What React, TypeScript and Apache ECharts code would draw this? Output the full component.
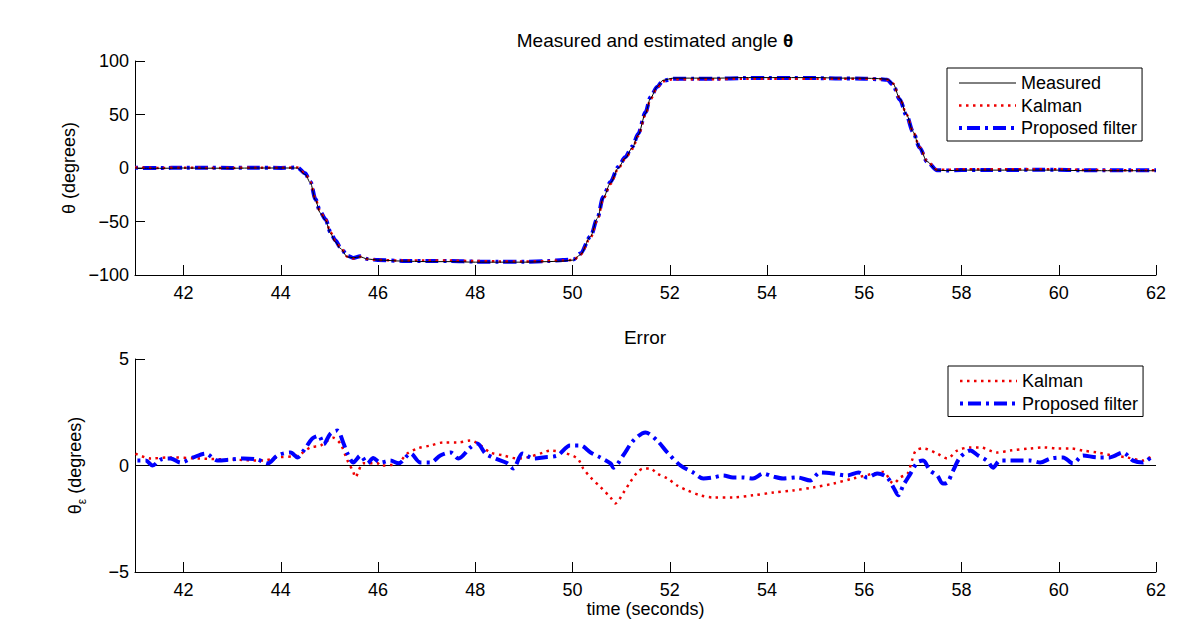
import React, { useEffect, useRef } from "react";
import * as echarts from "echarts";

const FONT = "'Liberation Sans', Arial, Helvetica, sans-serif";

// x tick labels (time, seconds)
const timeTicks = [42, 44, 46, 48, 50, 52, 54, 56, 58, 60, 62];

// ---- Top panel: measured and estimated angle (degrees) ----
const angleT = [41, 41.5, 42, 42.5, 43, 43.5, 44, 44.34, 44.5, 44.61, 44.71, 44.81, 44.92, 45.02, 45.12, 45.22, 45.37, 45.49, 45.63, 45.78, 45.99, 46.5, 47, 47.5, 48, 48.5, 49, 49.5, 49.8, 50.02, 50.16, 50.37, 50.51, 50.63, 50.78, 50.94, 51.08, 51.23, 51.35, 51.5, 51.6, 51.74, 51.86, 52.07, 52.5, 53, 53.5, 54, 54.5, 55, 55.5, 56, 56.3, 56.47, 56.59, 56.73, 56.87, 57, 57.14, 57.29, 57.49, 57.7, 58, 58.5, 59, 59.5, 60, 60.5, 61, 61.5, 62];
const measuredAngle = [0, -0.3, 0, -0.2, -0.2, 0, 0, 0, -6, -14, -30, -42, -49, -61, -69, -75, -83, -84, -83, -85, -86, -87, -87.5, -87.5, -88, -88, -88, -87.5, -87, -86, -81, -64, -47, -28, -14, 0, 9, 19, 31, 51, 65, 76, 82, 84, 84, 84, 84.5, 84.5, 84.5, 84.5, 84, 84, 83.5, 83, 79, 65, 50, 34, 19, 6, -2, -2.5, -2, -2, -2, -2, -2, -2.5, -2.5, -2.5, -2.5];
const kalmanAngle = [0.5, 0, 0.3, 0.1, 0.1, 0.2, 0.3, 0.4, -5, -13, -29, -41, -48, -60, -68, -74, -83, -84.5, -83, -85, -86, -86.5, -86.5, -86.5, -87, -87.3, -87.5, -87, -86.5, -86, -81, -65, -49, -29, -15, -0.5, 8.5, 18, 30, 50, 64, 75, 81, 83, 83, 83, 83.5, 83.5, 83.5, 83.5, 83.4, 83.5, 83.2, 82.5, 79, 65, 50, 34, 19.5, 6.5, -1.5, -1.7, -1.2, -1.3, -1.2, -1.2, -1.2, -1.8, -2, -2.2, -2.2];
const proposedAngle = [0.2, 0, 0.3, 0.3, 0.1, 0.2, 0.1, 0.4, -5, -13, -29, -41, -48, -60, -67.5, -74, -82, -84, -82.5, -85, -86, -86.8, -87, -87, -87.5, -87.7, -87.7, -87, -86, -85.5, -80, -64, -47, -27, -13, 1, 10, 20, 32, 52, 66, 76, 81.5, 83.5, 83.5, 83.5, 84, 84, 84, 84, 83.6, 83.5, 83, 82.5, 78, 64, 49, 34, 19, 6, -2, -2.3, -1.8, -1.8, -1.8, -1.7, -1.7, -2.2, -2.1, -2.2, -2.0];

// ---- Bottom panel: error (degrees) ----
const zeroT = [41, 62];
const zeroV = [0, 0];

const kalmanErrT = [41.01, 41.32, 41.73, 42.29, 42.97, 43.64, 43.93, 44.34, 44.61, 44.82, 44.96, 45.08, 45.23, 45.37, 45.49, 45.53, 45.7, 45.99, 46.05, 46.4, 46.6, 46.81, 47.08, 47.34, 47.63, 47.9, 48.11, 48.31, 48.58, 48.86, 49.07, 49.4, 49.54, 49.81, 50.1, 50.22, 50.37, 50.57, 50.78, 50.88, 51.04, 51.18, 51.33, 51.46, 51.6, 51.74, 51.95, 52.15, 52.36, 52.63, 52.89, 53.3, 53.71, 54.13, 54.54, 54.95, 55.36, 55.77, 56.19, 56.39, 56.6, 56.74, 56.89, 56.98, 57.06, 57.21, 57.5, 57.71, 57.91, 58.18, 58.38, 58.73, 59.0, 59.41, 59.68, 59.97, 60.24, 60.5, 60.79, 61.12, 61.4, 61.73, 61.93];
const kalmanErr = [0.56, 0.33, 0.38, 0.33, 0.28, 0.23, 0.38, 0.47, 0.85, 0.94, 1.17, 1.3, 1.0, 0.23, -0.3, -0.55, 0.1, 0.1, 0.0, 0.1, 0.56, 0.8, 0.94, 1.08, 1.08, 1.17, 0.94, 0.61, 0.47, 0.33, 0.38, 0.61, 0.7, 0.61, 0.33, -0.14, -0.56, -1.0, -1.5, -1.78, -1.3, -0.8, -0.33, -0.14, -0.14, -0.38, -0.61, -0.94, -1.17, -1.4, -1.5, -1.5, -1.4, -1.27, -1.17, -1.03, -0.85, -0.61, -0.38, -0.3, -0.85, -0.56, -0.38, 0.23, 0.7, 0.8, 0.56, 0.33, 0.7, 0.85, 0.85, 0.61, 0.7, 0.8, 0.85, 0.8, 0.8, 0.7, 0.61, 0.47, 0.38, 0.23, 0.47];

const proposedErrT = [41.05, 41.22, 41.36, 41.53, 41.73, 41.94, 42.2, 42.45, 42.7, 42.97, 43.23, 43.52, 43.73, 43.93, 44.2, 44.34, 44.47, 44.65, 44.78, 44.88, 45.02, 45.16, 45.29, 45.37, 45.49, 45.64, 45.78, 45.9, 46.05, 46.25, 46.42, 46.67, 46.87, 47.08, 47.28, 47.49, 47.65, 47.9, 48.04, 48.21, 48.41, 48.66, 48.78, 48.97, 49.19, 49.4, 49.69, 49.95, 50.16, 50.37, 50.57, 50.78, 50.84, 51.04, 51.25, 51.5, 51.74, 51.95, 52.22, 52.48, 52.69, 52.89, 53.1, 53.3, 53.51, 53.71, 53.92, 54.13, 54.33, 54.62, 54.89, 55.09, 55.36, 55.65, 55.88, 56.06, 56.27, 56.47, 56.6, 56.7, 56.8, 56.95, 57.09, 57.21, 57.35, 57.5, 57.62, 57.71, 57.83, 57.97, 58.18, 58.34, 58.52, 58.65, 58.79, 59.0, 59.21, 59.41, 59.62, 59.83, 60.09, 60.29, 60.5, 60.79, 61.05, 61.32, 61.53, 61.73, 61.93];
const proposedErr = [0.23, 0.23, 0.0, 0.28, 0.33, 0.14, 0.38, 0.56, 0.23, 0.28, 0.33, 0.28, 0.1, 0.47, 0.61, 0.38, 0.7, 1.27, 1.4, 1.0, 1.5, 1.64, 1.03, 0.56, 0.14, 0.47, 0.1, 0.35, 0.14, 0.23, 0.1, 0.56, 0.14, 0.14, 0.47, 0.61, 0.33, 0.85, 1.03, 0.56, 0.33, 0.1, -0.14, 0.56, 0.33, 0.38, 0.47, 0.94, 0.94, 0.61, 0.38, 0.1, -0.1, 0.47, 1.17, 1.55, 1.17, 0.61, 0.0, -0.33, -0.61, -0.56, -0.47, -0.56, -0.56, -0.61, -0.38, -0.52, -0.61, -0.56, -0.7, -0.33, -0.38, -0.47, -0.33, -0.56, -0.38, -0.56, -1.03, -1.4, -0.94, -0.38, 0.14, 0.23, -0.23, -0.47, -0.85, -0.8, -0.23, 0.38, 0.7, 0.47, 0.23, -0.1, 0.23, 0.23, 0.23, 0.23, 0.14, 0.33, 0.38, 0.1, 0.47, 0.38, 0.38, 0.61, 0.23, 0.14, 0.47];

const pairs = (t: number[], v: number[]) => t.map((x, i) => [x, v[i]]);
const minusFmt = (v: number) => String(v).replace("-", "\u2212");

const RED = "#ee0000";
const BLUE = "#0000ff";

const kalmanLine = { color: RED, width: 2.5, type: [2.5, 4.5], cap: "butt" };
const proposedLine = { color: BLUE, width: 4, type: [3, 5, 13, 5], cap: "butt" };

export default function App() {
  const ref = useRef<HTMLDivElement>(null);
  useEffect(() => {
    if (!ref.current) return;
    const chart = echarts.init(ref.current, undefined, { renderer: "svg" });
    const axisBase = {
      type: "value",
      axisLine: { show: true, onZero: false, lineStyle: { color: "#000", width: 1 } },
      axisTick: { show: true, inside: true, length: 10, lineStyle: { color: "#000", width: 1 } },
      splitLine: { show: false },
      nameTextStyle: { fontSize: 18, color: "#000", fontFamily: FONT },
    };
    const xAxisBase = {
      ...axisBase,
      min: 41,
      max: 62,
      axisTick: { ...axisBase.axisTick, customValues: timeTicks },
      axisLabel: { customValues: timeTicks, fontSize: 18, color: "#000", fontFamily: FONT, margin: 9 },
    };
    const legendBase = {
      orient: "vertical",
      itemWidth: 57,
      itemHeight: 14,
      itemGap: 4.5,
      borderColor: "#000",
      borderWidth: 1,
      borderRadius: 0,
      backgroundColor: "#fff",
      padding: [6, 5, 4, 10],
      textStyle: { fontSize: 18, color: "#000", fontFamily: FONT },
      itemStyle: { opacity: 0 },
      lineStyle: { width: "inherit" },
      selectedMode: false,
    };
    chart.setOption({
      animation: false,
      backgroundColor: "#fff",
      textStyle: { fontFamily: FONT },
      graphic: [
        {
          type: "text",
          x: 655,
          y: 40,
          style: {
            text: "Measured and estimated angle {b|θ}",
            font: `19px ${FONT}`,
            fill: "#000",
            textAlign: "center",
            textVerticalAlign: "middle",
            rich: { b: { fontWeight: "bold", fontSize: 19, fontFamily: FONT } },
          },
        },
        {
          type: "text",
          x: 645,
          y: 337,
          style: {
            text: "Error",
            font: `19px ${FONT}`,
            fill: "#000",
            textAlign: "center",
            textVerticalAlign: "middle",
          },
        },
      ],
      grid: [
        { left: 135, top: 61, width: 1021, height: 214 },
        { left: 135, top: 359, width: 1021, height: 213 },
      ],
      xAxis: [
        { ...xAxisBase, gridIndex: 0 },
        { ...xAxisBase, gridIndex: 1, name: "time (seconds)", nameLocation: "middle", nameGap: 28 },
      ],
      yAxis: [
        {
          ...axisBase,
          gridIndex: 0,
          min: -100,
          max: 100,
          interval: 50,
          axisLabel: { formatter: minusFmt, fontSize: 18, color: "#000", fontFamily: FONT, margin: 6 },
          name: "θ (degrees)",
          nameLocation: "middle",
          nameGap: 52,
        },
        {
          ...axisBase,
          gridIndex: 1,
          min: -5,
          max: 5,
          interval: 5,
          axisLabel: { formatter: minusFmt, fontSize: 18, color: "#000", fontFamily: FONT, margin: 6 },
          name: "θ{sub|ε} (degrees)",
          nameLocation: "middle",
          nameGap: 47,
          nameTextStyle: {
            fontSize: 18,
            color: "#000",
            fontFamily: FONT,
            lineHeight: 26,
            rich: { sub: { fontSize: 12, lineHeight: 12, verticalAlign: "bottom", fontFamily: FONT, color: "#000" } },
          },
        },
      ],
      legend: [
        { ...legendBase, left: 947, top: 68, data: ["Measured", "Kalman", "Proposed filter"] },
        { ...legendBase, left: 948, top: 366, data: ["Kalman", "Proposed filter"] },
      ],
      series: [
        {
          name: "Proposed filter",
          type: "line",
          xAxisIndex: 0,
          yAxisIndex: 0,
          data: pairs(angleT, proposedAngle),
          symbol: "none",
          smooth: 0.3,
          smoothMonotone: "x",
          lineStyle: proposedLine,
          itemStyle: { color: BLUE },
        },
        {
          name: "Kalman",
          type: "line",
          xAxisIndex: 0,
          yAxisIndex: 0,
          data: pairs(angleT, kalmanAngle),
          symbol: "none",
          smooth: 0.3,
          smoothMonotone: "x",
          lineStyle: kalmanLine,
          itemStyle: { color: RED },
        },
        {
          name: "Measured",
          type: "line",
          xAxisIndex: 0,
          yAxisIndex: 0,
          data: pairs(angleT, measuredAngle),
          symbol: "none",
          smooth: 0.3,
          smoothMonotone: "x",
          lineStyle: { color: "#000", width: 1 },
          itemStyle: { color: "#000" },
        },
        {
          name: "zero",
          type: "line",
          xAxisIndex: 1,
          yAxisIndex: 1,
          data: pairs(zeroT, zeroV),
          symbol: "none",
          silent: true,
          lineStyle: { color: "#000", width: 1.2 },
          itemStyle: { color: "#000" },
        },
        {
          name: "Kalman",
          type: "line",
          xAxisIndex: 1,
          yAxisIndex: 1,
          data: pairs(kalmanErrT, kalmanErr),
          symbol: "none",
          smooth: 0.3,
          lineStyle: kalmanLine,
          itemStyle: { color: RED },
        },
        {
          name: "Proposed filter",
          type: "line",
          xAxisIndex: 1,
          yAxisIndex: 1,
          data: pairs(proposedErrT, proposedErr),
          symbol: "none",
          smooth: 0.3,
          lineStyle: proposedLine,
          itemStyle: { color: BLUE },
        },
      ],
    });
    return () => chart.dispose();
  }, []);
  return (
    <div
      ref={ref}
      style={{ position: "absolute", left: 0, top: 0, width: 1180, height: 638, background: "#fff" }}
    />
  );
}
